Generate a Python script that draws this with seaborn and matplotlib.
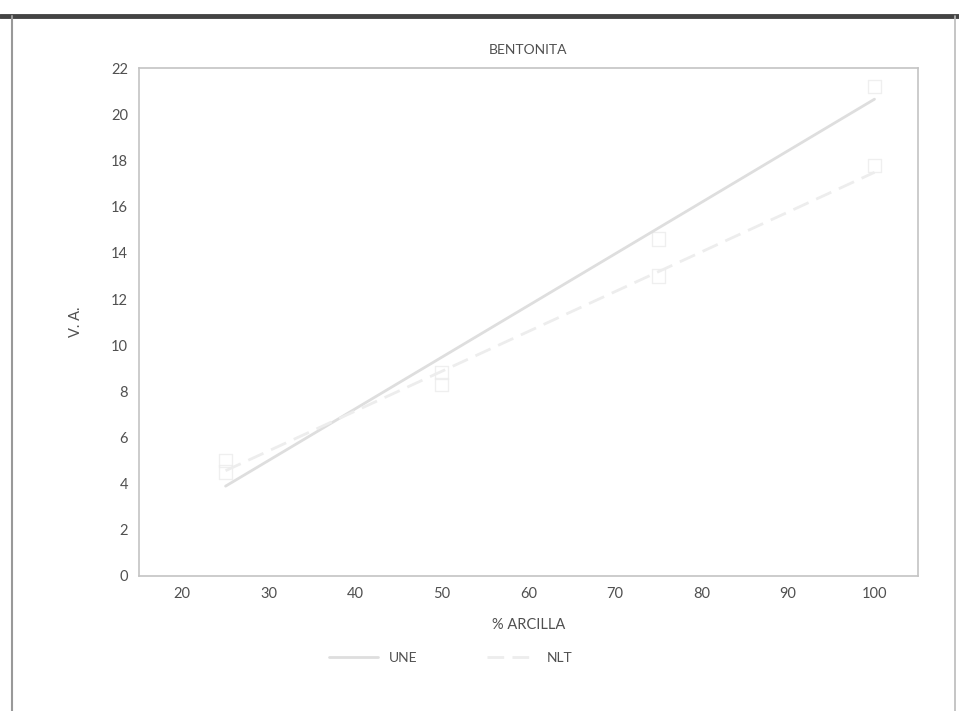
import seaborn as sns
import matplotlib.pyplot as plt
import pandas as pd
from matplotlib.lines import Line2D

# data
arcilla = [25, 50, 75, 100]
une = [4.5, 8.8, 14.6, 21.2]
nlt = [5.0, 8.3, 13.0, 17.8]

df = pd.DataFrame({'arcilla': arcilla * 2,
                   'va': une + nlt,
                   'serie': ['UNE'] * 4 + ['NLT'] * 4})

sns.set_style('white')
plt.rcParams['font.family'] = ['Lato', 'DejaVu Sans']
txt = '#505050'

fig = plt.figure(figsize=(9.59, 7.11), dpi=100)
ax = fig.add_axes([0.145, 0.19, 0.812, 0.714])

colors = {'UNE': '#dedede', 'NLT': '#ededed'}
for name, sub in df.groupby('serie', sort=False):
    sns.regplot(x='arcilla', y='va', data=sub, ax=ax, ci=None, truncate=True,
                marker='s',
                scatter_kws={'s': 90, 'facecolors': 'none',
                             'edgecolors': '#ececec', 'linewidths': 1.0},
                line_kws={'color': colors[name], 'lw': 2.0,
                          'ls': '-' if name == 'UNE' else (0, (6, 3))})

ax.set_xlim(15, 105)
ax.set_ylim(0, 22)
ax.set_xticks(range(20, 101, 10))
ax.set_yticks(range(0, 23, 2))
ax.tick_params(direction='in', length=7, color='#cccccc', labelcolor=txt,
               labelsize=10.5, pad=8)
for s in ax.spines.values():
    s.set_color('#c4c4c4')
    s.set_linewidth(1.2)

ax.set_xlabel('% ARCILLA', color=txt, fontsize=10.5, labelpad=12)
ax.set_ylabel('V. A.', color=txt, fontsize=10.5, labelpad=20)
ax.set_title('BENTONITA', color=txt, fontsize=10, pad=10)

handles = [Line2D([], [], color=colors['UNE'], lw=2.0),
           Line2D([], [], color=colors['NLT'], lw=2.0, ls=(0, (6, 3)))]
fig.legend(handles, ['UNE', 'NLT'], loc='center', bbox_to_anchor=(0.47, 0.075),
           ncol=2, frameon=False, fontsize=10, labelcolor=txt,
           handlelength=3.5, columnspacing=5)

# scan frame
fig.add_artist(Line2D([0, 1], [0.978, 0.978], color='#444444', lw=3.5))
fig.add_artist(Line2D([0.013, 0.013], [0, 0.978], color='#999999', lw=1.5))
fig.add_artist(Line2D([0.996, 0.996], [0, 0.978], color='#bbbbbb', lw=1.2))

fig.savefig('out.png', dpi=100)
